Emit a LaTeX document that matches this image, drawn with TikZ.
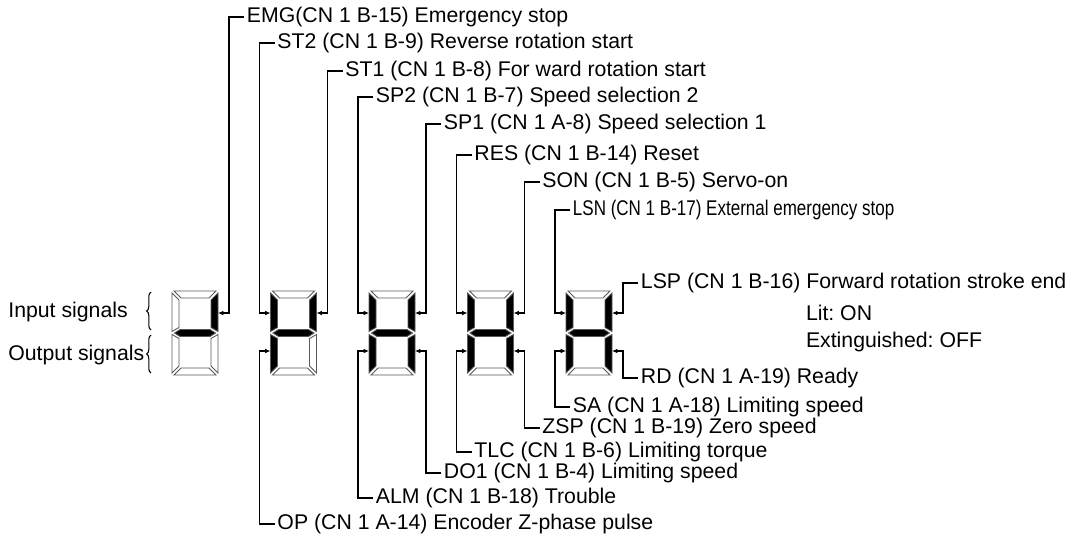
\documentclass[tikz,border=0pt]{standalone}
\usepackage{fontspec}
\setmainfont{Liberation Sans}
\usetikzlibrary{arrows.meta,decorations.pathreplacing}
\frenchspacing

\begin{document}
\begin{tikzpicture}[
				x=0.02cm,y=-0.02cm,
				seg/.style={draw=black!65,line width=0.5pt},
				sig/.style={-{Latex[length=3pt,width=2.6pt]},line width=0.8pt},
				lab/.style={anchor=west,inner sep=1.5pt,font=\fontsize{12.1}{14}\selectfont},
				brc/.style={decorate,decoration={brace,amplitude=2.5pt},line width=0.6pt}
				]
				\useasboundingbox (0,0) rectangle (1074,537);
				% seven-segment digits (black = lit)
				\foreach \x/\ca/\cb/\cc/\cd/\ce/\cf/\cg in {
					172/white/black/white/white/white/white/black,
					270.5/white/black/white/white/black/black/black,
					369/white/black/black/white/black/black/black,
					467.5/white/black/black/white/black/black/black,
					566/white/black/black/white/black/black/black} {
					\begin{scope}[shift={(\x,291)}]
						\draw[seg,fill=\ca] (2,0) -- (44,0) -- (37,7) -- (9,7) -- cycle;
						\draw[seg,fill=\cb] (46,2) -- (39,9) -- (39,36.5) -- (46,40.5) -- cycle;
						\draw[seg,fill=\cc] (46,43.5) -- (39,47.5) -- (39,75) -- (46,82) -- cycle;
						\draw[seg,fill=\cd] (2,84) -- (44,84) -- (37,77) -- (9,77) -- cycle;
						\draw[seg,fill=\ce] (0,43.5) -- (7,47.5) -- (7,75) -- (0,82) -- cycle;
						\draw[seg,fill=\cf] (0,2) -- (7,9) -- (7,36.5) -- (0,40.5) -- cycle;
						\draw[seg,fill=\cg] (2.5,42) -- (8,38.5) -- (38,38.5) -- (43.5,42) -- (38,45.5) -- (8,45.5) -- cycle;
					\end{scope}
				}
				\foreach \n/\x in {1/172, 2/270.5, 3/369, 4/467.5, 5/566} {
					\coordinate (f\n) at (\x,313);
					\coordinate (b\n) at (\x+46,313);
					\coordinate (e\n) at (\x,351);
					\coordinate (c\n) at (\x+46,351);
				}
				
				\node[lab,inner sep=0pt] (in) at (8,312) {Input signals};
				\node[lab,inner sep=0pt] (out) at (8,355) {Output signals};
				\draw[brc] (151,330) -- (151,292);
				\draw[brc] (151,373) -- (151,335);
				
				% input signals
				\node[lab] (emg) at (244,17) {EMG(CN 1 B-15) Emergency stop};
				\node[lab] (st2) at (274.5,43) {ST2 (CN 1 B-9) Reverse rotation start};
				\node[lab] (st1) at (342.5,71) {ST1 (CN 1 B-8) For ward rotation start};
				\node[lab] (sp2) at (373,97) {SP2 (CN 1 B-7) Speed selection 2};
				\node[lab] (sp1) at (441,124) {SP1 (CN 1 A-8) Speed selection 1};
				\node[lab] (res) at (471.5,155) {RES (CN 1 B-14) Reset};
				\node[lab] (son) at (539.5,182) {SON (CN 1 B-5) Servo-on};
				\node[lab] (lsn) at (570,210) {\scalebox{0.8}[1]{LSN (CN 1 B-17) External emergency stop}};
				\node[lab] (lsp) at (638,283) {LSP (CN 1 B-16) Forward rotation stroke end};
				\draw[sig] (emg.west) -- ++(-15,0) |- (b1);
				\draw[sig] (st2.west) -- ++(-15,0) |- (f2);
				\draw[sig] (st1.west) -- ++(-15,0) |- (b2);
				\draw[sig] (sp2.west) -- ++(-15,0) |- (f3);
				\draw[sig] (sp1.west) -- ++(-15,0) |- (b3);
				\draw[sig] (res.west) -- ++(-15,0) |- (f4);
				\draw[sig] (son.west) -- ++(-15,0) |- (b4);
				\draw[sig] (lsn.west) -- ++(-15,0) |- (f5);
				\draw[sig] (lsp.west) -- ++(-15,0) |- (b5);
				
				\node[lab] (lit) at (803,313) {Lit: ON};
				\node[lab] (ext) at (803,342) {Extinguished: OFF};
				
				% output signals
				\node[lab] (rd) at (638,378) {RD (CN 1 A-19) Ready};
				\node[lab] (sa) at (570,407) {SA (CN 1 A-18) Limiting speed};
				\node[lab] (zsp) at (539.5,428) {ZSP (CN 1 B-19) Zero speed};
				\node[lab] (tlc) at (471.5,452) {TLC (CN 1 B-6) Limiting torque};
				\node[lab] (do1) at (441,473) {DO1 (CN 1 B-4) Limiting speed};
				\node[lab] (alm) at (373,498) {ALM (CN 1 B-18) Trouble};
				\node[lab] (op) at (274.5,524) {OP (CN 1 A-14) Encoder Z-phase pulse};
				\draw[sig] (rd.west) -- ++(-15,0) |- (c5);
				\draw[sig] (sa.west) -- ++(-15,0) |- (e5);
				\draw[sig] (zsp.west) -- ++(-15,0) |- (c4);
				\draw[sig] (tlc.west) -- ++(-15,0) |- (e4);
				\draw[sig] (do1.west) -- ++(-15,0) |- (c3);
				\draw[sig] (alm.west) -- ++(-15,0) |- (e3);
				\draw[sig] (op.west) -- ++(-15,0) |- (e2);
			\end{tikzpicture}
\end{document}
